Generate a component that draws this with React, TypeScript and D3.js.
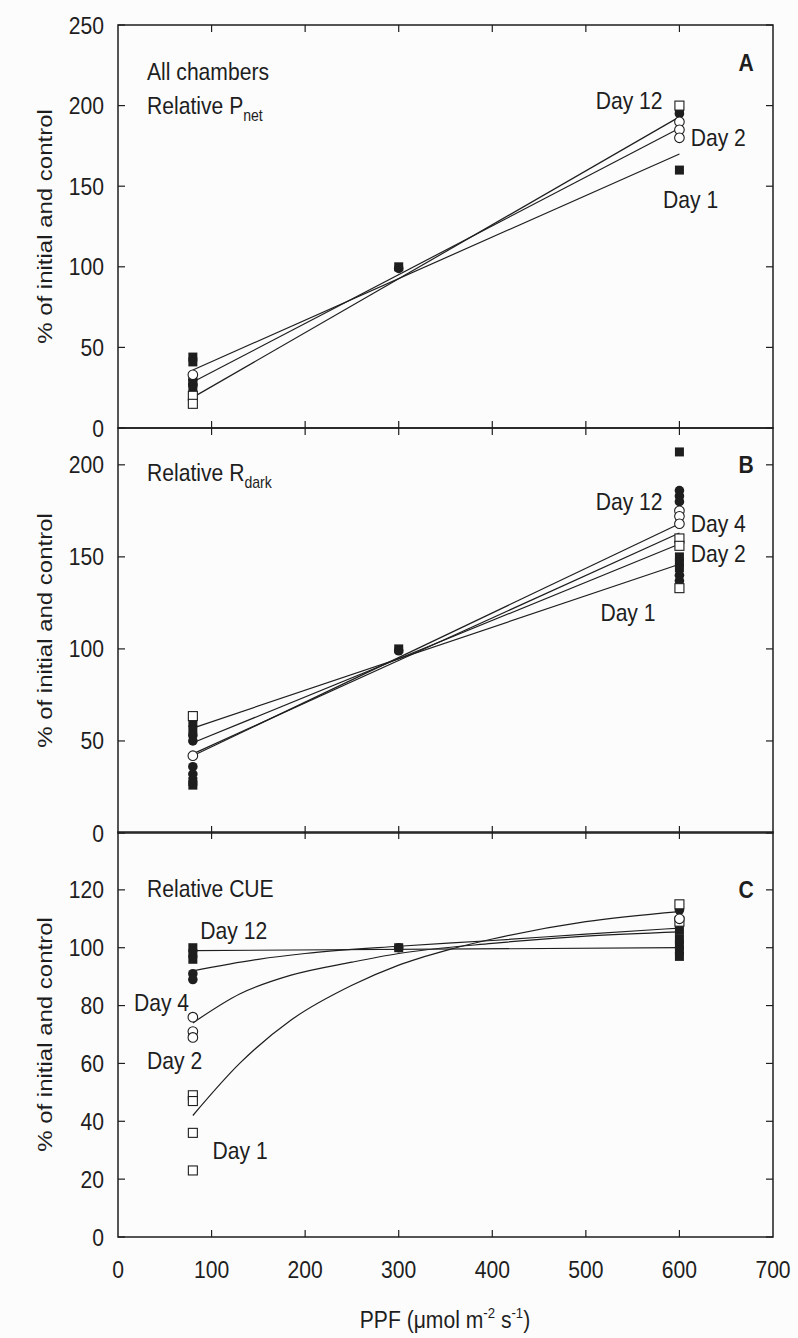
import React from 'react';
import * as d3 from 'd3';

type Pt = [number, number];

// x axis (PPF)
const xTicks = [0, 100, 200, 300, 400, 500, 600, 700];

// Panel A - relative Pnet
const aYTicks = [0, 50, 100, 150, 200, 250];
const aFilledSquares: Pt[] = [[80, 44], [80, 41], [80, 28], [80, 25], [300, 100], [600, 197], [600, 160]];
const aFilledCircles: Pt[] = [[80, 30], [80, 27], [300, 99], [600, 195]];
const aOpenSquares: Pt[] = [[80, 20], [80, 15], [600, 200]];
const aOpenCircles: Pt[] = [[80, 33], [600, 190], [600, 185], [600, 180]];
const aFits: Pt[][] = [
  [[80, 36], [600, 170]],
  [[80, 28.5], [600, 186]],
  [[80, 19], [600, 193]],
];

// Panel B - relative Rdark
const bYTicks = [0, 50, 100, 150, 200];
const bFilledSquares: Pt[] = [[80, 60], [80, 56], [80, 28], [80, 26], [300, 100], [600, 207], [600, 150], [600, 147], [600, 144]];
const bFilledCircles: Pt[] = [[80, 53], [80, 50], [80, 36], [80, 32], [300, 99], [600, 186], [600, 183], [600, 180], [600, 140], [600, 137]];
const bOpenSquares: Pt[] = [[80, 63.5], [600, 160], [600, 156], [600, 133]];
const bOpenCircles: Pt[] = [[80, 42], [600, 175], [600, 172], [600, 168]];
const bFits: Pt[][] = [
  [[80, 57], [600, 146]],
  [[80, 49], [600, 157]],
  [[80, 43], [600, 163]],
  [[80, 42], [600, 168]],
];

// Panel C - relative CUE
const cYTicks = [0, 20, 40, 60, 80, 100, 120];
const cFilledSquares: Pt[] = [[80, 100], [80, 98], [80, 96], [300, 100], [600, 106], [600, 103], [600, 101], [600, 99], [600, 97]];
const cFilledCircles: Pt[] = [[80, 91], [80, 89], [300, 100], [600, 113]];
const cOpenSquares: Pt[] = [[80, 49], [80, 47], [80, 36], [80, 23], [600, 115], [600, 109]];
const cOpenCircles: Pt[] = [[80, 76], [80, 71], [80, 69], [600, 110]];
const cFits: Pt[][] = [
  [[80, 99], [600, 100]],
  [[80, 92], [150, 96], [200, 98], [300, 100.5], [400, 102.5], [500, 104.7], [600, 106.8]],
  [[80, 74], [130, 84], [185, 90.5], [250, 95], [300, 98], [400, 101.5], [500, 104], [600, 105.5]],
  [[80, 42], [130, 60], [185, 75], [250, 87], [300, 94], [350, 99], [400, 103], [500, 109], [600, 112.5]],
];

// annotations: [ppf, value, text, anchor]
const aDayLabels: [number, number, string, string][] = [
  [582, 203, 'Day 12', 'end'],
  [612, 180, 'Day 2', 'start'],
  [612, 142, 'Day 1', 'middle'],
];
const bDayLabels: [number, number, string, string][] = [
  [582, 180, 'Day 12', 'end'],
  [612, 168, 'Day 4', 'start'],
  [612, 152, 'Day 2', 'start'],
  [545, 120, 'Day 1', 'middle'],
];
const cDayLabels: [number, number, string, string][] = [
  [88, 106, 'Day 12', 'start'],
  [76, 81, 'Day 4', 'end'],
  [31, 61, 'Day 2', 'start'],
  [101, 30, 'Day 1', 'start'],
];

const W = 798;
const H = 1338;
const left = 118;
const right = 773;
const FONT = '"Liberation Sans", Arial, sans-serif';
const INK = '#1e1e1e';
const SQX = 0.88;

const x = d3.scaleLinear().domain([0, 700]).range([left, right]);

const panels = [
  {
    y: d3.scaleLinear().domain([0, 250]).range([428, 25]),
    ticks: aYTicks,
    fs: aFilledSquares, fc: aFilledCircles, os: aOpenSquares, oc: aOpenCircles,
    fits: aFits, labels: aDayLabels, letter: 'A', letterAt: 227,
    title: [['All chambers', 221, null], ['Relative P', 200, 'net']] as [string, number, string | null][],
  },
  {
    y: d3.scaleLinear().domain([0, 220]).range([833, 428]),
    ticks: bYTicks,
    fs: bFilledSquares, fc: bFilledCircles, os: bOpenSquares, oc: bOpenCircles,
    fits: bFits, labels: bDayLabels, letter: 'B', letterAt: 200,
    title: [['Relative R', 196, 'dark']] as [string, number, string | null][],
  },
  {
    y: d3.scaleLinear().domain([0, 140]).range([1237, 832]),
    ticks: cYTicks,
    fs: cFilledSquares, fc: cFilledCircles, os: cOpenSquares, oc: cOpenCircles,
    fits: cFits, labels: cDayLabels, letter: 'C', letterAt: 120,
    title: [['Relative CUE', 120.5, null]] as [string, number, string | null][],
  },
];

function T({ x, y, anchor = 'start', size = 24, weight = 'normal', children }: any) {
  return (
    <text
      transform={`translate(${x},${y}) scale(${SQX},1)`}
      textAnchor={anchor}
      fontSize={size}
      fontWeight={weight}
      fontFamily={FONT}
      fill={INK}
    >
      {children}
    </text>
  );
}

export default function App() {
  const sq = 9;
  const r = 4.8;
  const tl = 7;

  return (
    <div style={{ position: 'absolute', left: 0, top: 0 }}>
      <svg width={W} height={H} style={{ display: 'block', background: '#fcfcfc' }}>
        {panels.map((p, i) => {
          const [y0, y1] = p.y.range();
          const line = d3.line<Pt>().x((d) => x(d[0])).y((d) => p.y(d[1])).curve(d3.curveMonotoneX);
          const cy = (y0 + y1) / 2;
          return (
            <g key={i}>
              {/* frame */}
              <rect x={left} y={y1} width={right - left} height={y0 - y1} fill="none" stroke={INK} strokeWidth={1.5} />
              {/* x ticks inside top & bottom */}
              {xTicks.slice(1, -1).map((t) => (
                <g key={t}>
                  <line x1={x(t)} x2={x(t)} y1={y0} y2={y0 - tl} stroke={INK} strokeWidth={1.2} />
                  <line x1={x(t)} x2={x(t)} y1={y1} y2={y1 + tl} stroke={INK} strokeWidth={1.2} />
                </g>
              ))}
              {/* y ticks inside left & right */}
              {p.ticks.map((t) => (
                <g key={t}>
                  <line x1={left} x2={left + tl} y1={p.y(t)} y2={p.y(t)} stroke={INK} strokeWidth={1.2} />
                  <line x1={right} x2={right - tl} y1={p.y(t)} y2={p.y(t)} stroke={INK} strokeWidth={1.2} />
                  <T x={left - 14} y={p.y(t) + 8.5} anchor="end">{t}</T>
                </g>
              ))}
              {/* y title */}
              <text
                transform={`translate(52,${cy}) rotate(-90) scale(1,${SQX})`}
                textAnchor="middle"
                fontSize={24}
                fontFamily={FONT}
                fill={INK}
              >
                % of initial and control
              </text>
              {/* fits */}
              {p.fits.map((f, k) => (
                <path key={k} d={line(f) || ''} fill="none" stroke={INK} strokeWidth={1.2} />
              ))}
              {/* markers */}
              {p.fs.map((d, k) => (
                <rect key={'fs' + k} x={x(d[0]) - sq / 2} y={p.y(d[1]) - sq / 2} width={sq} height={sq} fill={INK} />
              ))}
              {p.fc.map((d, k) => (
                <circle key={'fc' + k} cx={x(d[0])} cy={p.y(d[1])} r={r} fill={INK} />
              ))}
              {p.os.map((d, k) => (
                <rect key={'os' + k} x={x(d[0]) - sq / 2} y={p.y(d[1]) - sq / 2} width={sq} height={sq} fill="#fff" stroke={INK} strokeWidth={1.1} />
              ))}
              {p.oc.map((d, k) => (
                <circle key={'oc' + k} cx={x(d[0])} cy={p.y(d[1])} r={r} fill="#fff" stroke={INK} strokeWidth={1.1} />
              ))}
              {/* panel text */}
              {p.title.map(([txt, v, sub], k) => (
                <T key={k} x={147} y={p.y(v) + 8.5}>
                  {txt}
                  {sub && <tspan fontSize={16} dy={7}>{sub}</tspan>}
                </T>
              ))}
              <T x={746} y={p.y(p.letterAt) + 8.5} anchor="middle" weight="bold">{p.letter}</T>
              {p.labels.map(([px, v, txt, anc], k) => (
                <T key={k} x={x(px)} y={p.y(v) + 8.5} anchor={anc}>{txt}</T>
              ))}
            </g>
          );
        })}
        {/* x tick labels */}
        {xTicks.map((t) => (
          <T key={t} x={x(t)} y={1278} anchor="middle">{t}</T>
        ))}
        <T x={445} y={1328} anchor="middle">
          PPF (μmol m
          <tspan fontSize={15} dy={-10}>-2</tspan>
          <tspan dy={10}> s</tspan>
          <tspan fontSize={15} dy={-10}>-1</tspan>
          <tspan dy={10}>)</tspan>
        </T>
      </svg>
    </div>
  );
}
